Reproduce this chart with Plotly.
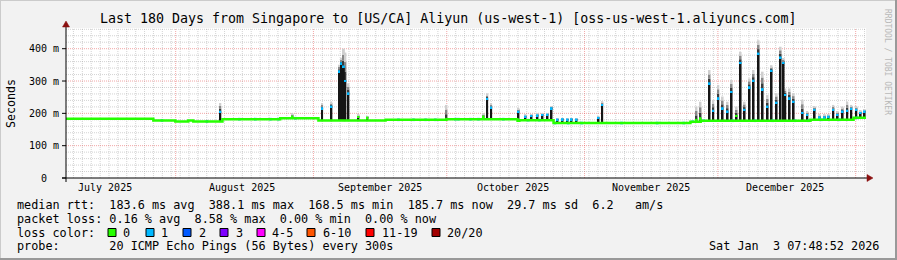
import plotly.graph_objects as go
from datetime import datetime, timedelta

# ---------------- data ----------------
WINDOW_START = datetime(2025, 7, 7, 7, 48, 52)
WINDOW_DAYS = 180
TITLE = "Last 180 Days from Singapore to [US/CA] Aliyun (us-west-1) [oss-us-west-1.aliyuncs.com]"
STAMP = "Sat Jan  3 07:48:52 2026"
PROBE = "20 ICMP Echo Pings (56 Bytes) every 300s"

# median rtt baseline (step changes): day offset in window, ms
base_day = [0.0, 19.65, 24.6, 27.5, 28.65, 35.2, 48.2, 56.8, 71.9, 85.6,
            101.6, 102.0, 109.7, 140.5, 142.8, 167.5, 177.2, 180.0]
base_ms = [183, 178, 175, 178, 175, 182, 185, 178, 180, 182,
           177, 179, 170, 174, 177, 180, 186, 186]

# spikes: day offset, median top (ms), smoke max (ms), loss count
spike_day = [34.73, 50.94, 57.63, 59.72, 61.41, 61.86, 62.53, 62.87, 63.55, 65.80, 67.82,
             85.6, 93.93, 94.77, 95.67, 101.81, 103.39, 104.74, 106.09, 107.21, 108.34, 109.24,
             110.59, 111.72, 112.84, 113.74, 114.87, 119.82, 120.65,
             141.87, 142.77, 144.8, 145.64, 146.77, 147.74, 148.86, 149.76, 150.89, 151.79,
             152.69, 153.81, 154.71, 155.84, 156.74, 157.86, 158.76, 159.89, 160.79, 161.46,
             161.85, 162.82, 163.72, 165.74, 166.80, 168.44, 169.57, 170.69, 171.59, 172.65,
             173.62, 174.74, 175.80, 176.70, 177.83, 178.80, 179.70]
spike_top = [205, 190, 216, 221, 330, 355, 345, 300, 262, 189, 187,
             183, 190, 245, 218, 205, 190, 192, 194, 195, 196, 216,
             181, 182, 181, 182, 181, 186, 226,
             180, 185, 293, 208, 247, 216, 206, 266, 192, 356,
             211, 281, 301, 385, 275, 221, 332, 233, 373, 356,
             257, 247, 236, 201, 195, 211, 188, 188, 190, 211,
             195, 206, 208, 214, 211, 201, 206]
spike_max = [232, 200, 231, 236, 350, 372, 400, 388, 293, 195, 190,
             226, 200, 262, 230, 215, 195, 197, 199, 200, 200, 222,
             184, 185, 184, 185, 184, 190, 238,
             221, 236, 334, 241, 288, 252, 236, 303, 221, 390,
             236, 308, 334, 426, 329, 257, 349, 262, 406, 370,
             277, 277, 262, 242, 205, 221, 195, 195, 195, 226,
             205, 221, 236, 226, 220, 210, 212]
spike_loss = [1, 0, 1, 1, 1, 1, 1, 1, 1, 0, 0,
              0, 0, 1, 1, 1, 1, 1, 1, 1, 1, 1,
              1, 1, 1, 1, 1, 1, 1,
              0, 0, 1, 1, 1, 1, 1, 1, 0, 1,
              1, 1, 1, 1, 1, 1, 1, 1, 1, 1,
              1, 1, 1, 1, 1, 1, 1, 1, 1, 1,
              1, 1, 1, 1, 1, 1, 1]

# baseline intervals with 1 lost ping (blue median marks)
blue_day = [21.6, 31.7, 39.0, 42.6, 46.0, 47.8, 51.6, 74.8, 78.2, 80.9, 83.1, 87.6,
            88.3, 91.0, 92.8, 98.4, 104.0, 106.5, 110.0, 113.0, 116.0, 125.0, 133.0,
            139.0, 141.0, 143.5, 150.0, 155.0, 159.0, 164.0, 167.0, 170.0, 174.0, 178.0]

median_stats = ["183.6", "388.1", "168.5", "185.7", "29.7", "6.2"]
loss_stats = ["0.16", "8.58", "0.00", "0.00"]
loss_labels = ["0", "1", "2", "3", "4-5", "6-10", "11-19", "20/20"]
loss_colors = ["#26ff00", "#00b8ff", "#0059ff", "#7e00ff", "#ff00ff", "#ff5500", "#ff0000", "#a10000"]
y_ticks = [0, 100, 200, 300, 400]
y_tick_text = ["0", "100 m", "200 m", "300 m", "400 m"]

# ---------------- layout constants ----------------
W, H = 897, 260
PL, PT, PW, PH = 66, 28, 800, 150
YMAX = 464
MONO = "DejaVu Sans Mono"


def px(x):
    return (x - PL) / PW


def py(y):
    return (PT + PH - y) / PH


def day_of(dt):
    return (dt - WINDOW_START).total_seconds() / 86400.0


def base_at(d):
    v = base_ms[0]
    for bd, bm in zip(base_day, base_ms):
        if bd <= d:
            v = bm
    return v


fig = go.Figure()

# smoke (gray fade above median)
BW = 0.42
shades = ["#3a3a3a", "#888888", "#cfcfcf"]
for k, col in enumerate(shades):
    lo = [t + (m - t) * k / 3 for t, m in zip(spike_top, spike_max)]
    hi = [t + (m - t) * (k + 1) / 3 for t, m in zip(spike_top, spike_max)]
    fig.add_trace(go.Bar(x=spike_day, base=lo, y=[h - l for h, l in zip(hi, lo)], width=BW,
                         marker=dict(color=col, line=dict(width=0)), hoverinfo="skip"))

# black smoke body
bb = [base_at(d) - 2 for d in spike_day]
fig.add_trace(go.Bar(x=spike_day, base=bb, y=[t - b for t, b in zip(spike_top, bb)], width=BW,
                     marker=dict(color="#151515", line=dict(width=0)), hoverinfo="skip"))

# median line
fig.add_trace(go.Scatter(x=base_day, y=base_ms, mode="lines", line=dict(color=loss_colors[0], width=2.5, shape="hv"),
                         hoverinfo="skip"))

# blue marks on baseline
fig.add_trace(go.Bar(x=blue_day, base=[base_at(d) - 4 for d in blue_day], y=[8] * len(blue_day), width=0.6,
                     marker=dict(color=loss_colors[1], line=dict(width=0)), hoverinfo="skip"))

# median markers at spike tops
fig.add_trace(go.Bar(x=spike_day, base=[t - 3 for t in spike_top], y=[6] * len(spike_day), width=BW,
                     marker=dict(color=[loss_colors[l] for l in spike_loss], line=dict(width=0)),
                     hoverinfo="skip"))

shapes = []
# horizontal grid
GRAY = "rgba(150,150,150,0.42)"
RED = "rgba(230,80,80,0.5)"
for v in range(20, YMAX, 20):
    major = v % 100 == 0
    shapes.append(dict(type="line", xref="x", yref="y", x0=0, x1=WINDOW_DAYS, y0=v, y1=v, layer="below",
                       line=dict(color=RED if major else GRAY, width=1, dash="1px,1px")))
# vertical grid
month_starts = [datetime(2025, m, 1) for m in range(8, 13)] + [datetime(2026, 1, 1)]
ms_days = [day_of(d) for d in month_starts]
d = datetime(2025, 7, 9)
while day_of(d) < WINDOW_DAYS:
    dd = day_of(d)
    if all(abs(dd - m) > 0.1 for m in ms_days):
        shapes.append(dict(type="line", xref="x", yref="paper", x0=dd, x1=dd, y0=0, y1=1, layer="below",
                           line=dict(color=GRAY, width=1, dash="1px,1px")))
    d += timedelta(days=2)
for m in ms_days:
    shapes.append(dict(type="line", xref="x", yref="paper", x0=m, x1=m, y0=0, y1=1, layer="below",
                       line=dict(color=RED, width=1, dash="1px,1px")))

# axes
AX = "#000000"
ARROW = "#8b1010"
shapes.append(dict(type="line", xref="paper", yref="paper", x0=px(62), x1=px(868), y0=py(178), y1=py(178),
                   line=dict(color=AX, width=1)))
shapes.append(dict(type="line", xref="paper", yref="paper", x0=px(66), x1=px(66), y0=py(182), y1=py(25),
                   line=dict(color=AX, width=1)))
shapes.append(dict(type="path", xref="paper", yref="paper",
                   path=f"M{px(867)},{py(174.5)} L{px(873)},{py(178)} L{px(867)},{py(181.5)} Z",
                   fillcolor=ARROW, line=dict(color=ARROW, width=0.5)))
shapes.append(dict(type="path", xref="paper", yref="paper",
                   path=f"M{px(62.5)},{py(27)} L{px(66)},{py(21)} L{px(69.5)},{py(27)} Z",
                   fillcolor=ARROW, line=dict(color=ARROW, width=0.5)))
for v in y_ticks:
    yy = PT + PH - v * PH / YMAX
    shapes.append(dict(type="line", xref="paper", yref="paper", x0=px(62), x1=px(66), y0=py(yy), y1=py(yy),
                       line=dict(color=AX, width=1)))

# frame border
shapes.append(dict(type="line", xref="paper", yref="paper", x0=px(0), x1=px(W), y0=py(0.5), y1=py(0.5),
                   line=dict(color="#cbcbcb", width=1)))
shapes.append(dict(type="line", xref="paper", yref="paper", x0=px(0.5), x1=px(0.5), y0=py(0), y1=py(H),
                   line=dict(color="#cbcbcb", width=1)))
shapes.append(dict(type="line", xref="paper", yref="paper", x0=px(0), x1=px(W), y0=py(H - 1), y1=py(H - 1),
                   line=dict(color="#999999", width=2)))
shapes.append(dict(type="line", xref="paper", yref="paper", x0=px(W - 1), x1=px(W - 1), y0=py(0), y1=py(H),
                   line=dict(color="#999999", width=2)))

annotations = []


def text(x, y, s, size, anchor="left", angle=0, color="#000000"):
    annotations.append(dict(x=px(x), y=py(y), xref="paper", yref="paper", text=s.replace(" ", "\u00a0"),
                            showarrow=False, xanchor=anchor, yanchor="middle", borderpad=0, textangle=angle,
                            font=dict(family=MONO, size=size, color=color)))


text(448, 19, TITLE, 13.3, anchor="center")
text(888, 62, "RRDTOOL / TOBI OETIKER", 8, anchor="center", angle=90, color="#b8b8b8")
text(11, 103, "Seconds", 11.6, anchor="center", angle=-90)

for v, t in zip(y_ticks, y_tick_text):
    yy = PT + PH - v * PH / YMAX
    text(60 if v else 48, yy, t, 10, anchor="right")

labels_months = [datetime(2025, m, 16) for m in range(7, 13)]
for dt in labels_months:
    text(PL + day_of(dt) * PW / WINDOW_DAYS, 187, dt.strftime("%B %Y"), 10, anchor="center")

FS = 11.8
L1 = ("median rtt:  %s ms avg  %s ms max  %s ms min  %s ms now  %s ms sd  %s   am/s"
      % tuple(median_stats))
L2 = "packet loss: %s %% avg  %s %% max  %s %% min  %s %% now" % tuple(loss_stats)
text(16, 204.5, L1, FS)
text(16, 218.5, L2, FS)
text(16, 232.5, "loss color:", FS)
text(16, 246.5, "probe:       " + PROBE, FS)
text(880, 246.5, STAMP, FS, anchor="right")

box_x = [108, 146, 183, 220, 257, 307, 366, 432]
lab_x = [122, 160, 198, 235, 271, 322, 381, 446]
for bx, lx, lab, col in zip(box_x, lab_x, loss_labels, loss_colors):
    shapes.append(dict(type="rect", xref="paper", yref="paper", x0=px(bx), x1=px(bx + 8), y0=py(228.5),
                       y1=py(236.5), fillcolor=col, line=dict(color="#000000", width=1)))
    text(lx, 232.5, lab, FS)

fig.update_layout(
    width=W, height=H,
    margin=dict(l=PL, r=W - PL - PW, t=PT, b=H - PT - PH, pad=0),
    paper_bgcolor="#f2f2f2", plot_bgcolor="#ffffff",
    showlegend=False, barmode="overlay",
    xaxis=dict(range=[0, WINDOW_DAYS], visible=False, fixedrange=True),
    yaxis=dict(range=[0, YMAX], visible=False, fixedrange=True),
    shapes=shapes, annotations=annotations,
)

fig.write_html("out.html", config={"displayModeBar": False})
